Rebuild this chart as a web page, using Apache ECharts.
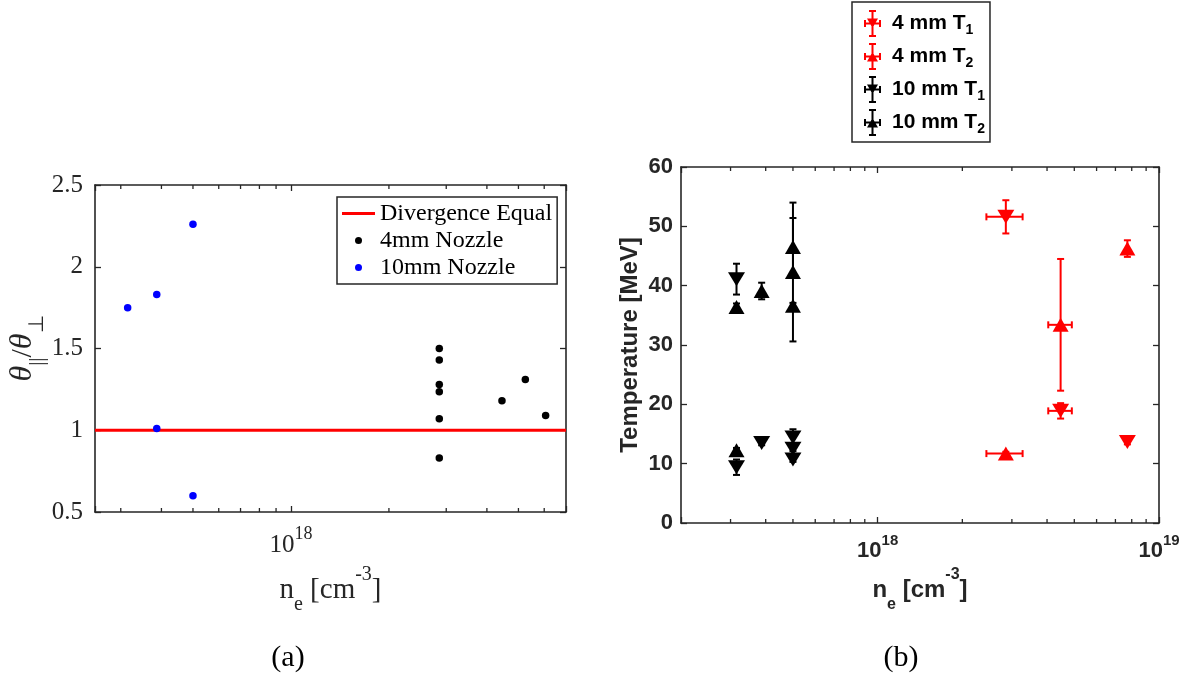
<!DOCTYPE html>
<html>
<head>
<meta charset="utf-8">
<script src="https://cdn.jsdelivr.net/npm/echarts@6/dist/echarts.min.js"></script>
<style>
  html, body { margin: 0; padding: 0; background: #fff; }
  #chart { width: 1191px; height: 682px; }
</style>
</head>
<body>
<div id="chart"></div>
<script>
// ---------- Panel (a): divergence ratio vs electron density ----------
const ne10mm    = [3.15e17, 3.87e17, 3.87e17, 5.0e17, 5.0e17];
const ratio10mm = [1.75, 1.83, 1.01, 2.26, 0.60];
const ne4mm     = [2.856e18, 2.856e18, 2.856e18, 2.856e18, 2.856e18, 2.856e18, 4.45e18, 5.25e18, 6.06e18];
const ratio4mm  = [1.50, 1.43, 1.28, 1.235, 1.07, 0.83, 1.18, 1.31, 1.09];
const divergenceEqual = 1;
const xRangeA = [2.5e17, 7e18];
const yRangeA = [0.5, 2.5];
const yStepA = 0.5;
const minorTicksA = [3e17, 4e17, 5e17, 6e17, 7e17, 8e17, 9e17, 2e18, 3e18, 4e18, 5e18, 6e18];

// ---------- Panel (b): temperatures vs electron density ----------
const ne10     = [3.15e17, 3.15e17, 3.87e17, 5.0e17, 5.0e17, 5.0e17];
const T1_10    = [41.1, 9.4, 13.5, 14.4, 12.5, 10.7];
const T1_10err = [2.6, 1.3, 0.4, 1.4, 0.4, 0.4];
const T2_10    = [36.4, 12.25, 39.1, 46.5, 42.3, 36.6];
const T2_10err = [0.6, 0.4, 1.4, 4.9, 11.7, 0.5];
const ne4      = [2.855e18, 4.47e18, 7.72e18];
const ne4err   = [0.42e18, 0.43e18, 0];
const T1_4     = [51.6, 18.9, 13.65];
const T1_4err  = [2.8, 1.3, 0.4];
const T2_4     = [11.7, 33.4, 46.25];
const T2_4err  = [0.3, 11.1, 1.4];
const xRangeB = [2e17, 1e19];
const yRangeB = [0, 60];
const yStepB = 10;
const minorTicksB = [3e17, 4e17, 5e17, 6e17, 7e17, 8e17, 9e17, 2e18, 3e18, 4e18, 5e18, 6e18, 7e18, 8e18, 9e18];

const AX = '#262626';
const SERIF = 'Liberation Serif';
const SANS = 'Liberation Sans';
const RED = '#ff0000';
const BLACK = '#000000';
const BLUE = '#0000ff';

const chart = echarts.init(document.getElementById('chart'), null, { renderer: 'canvas' });

// decade labels written as 10^n
function decadeLabel(v) {
  const e = Math.log10(v);
  const r = Math.round(e);
  return Math.abs(e - r) < 1e-6 ? '{b|10}{p|' + r + '}' : '';
}

// minor ticks of a log axis, drawn on both bottom and top edges of the box
function minorTickRenderer(len) {
  return function (params, api) {
    const cs = params.coordSys;
    const px = api.coord([api.value(0), api.value(1)])[0];
    const st = { stroke: AX, lineWidth: 1.3 };
    return {
      type: 'group',
      children: [
        { type: 'line', shape: { x1: px, y1: cs.y + cs.height, x2: px, y2: cs.y + cs.height - len }, style: st },
        { type: 'line', shape: { x1: px, y1: cs.y, x2: px, y2: cs.y + len }, style: st }
      ]
    };
  };
}

// error bars with end caps (x and y)
const CAP = 3.5;
function errorBarRenderer(color) {
  return function (params, api) {
    const x = api.value(0), y = api.value(1), xe = api.value(2), ye = api.value(3);
    const c = api.coord([x, y]);
    const st = { stroke: color, lineWidth: 2 };
    const seg = (x1, y1, x2, y2) => ({ type: 'line', shape: { x1, y1, x2, y2 }, style: st });
    const kids = [];
    if (ye > 0) {
      const top = api.coord([x, y + ye])[1];
      const bot = api.coord([x, y - ye])[1];
      kids.push(seg(c[0], top, c[0], bot), seg(c[0] - CAP, top, c[0] + CAP, top), seg(c[0] - CAP, bot, c[0] + CAP, bot));
    }
    if (xe > 0) {
      const l = api.coord([x - xe, y])[0];
      const r = api.coord([x + xe, y])[0];
      kids.push(seg(l, c[1], r, c[1]), seg(l, c[1] - CAP, l, c[1] + CAP), seg(r, c[1] - CAP, r, c[1] + CAP));
    }
    return { type: 'group', children: kids };
  };
}

function zip2(xs, ys) { return xs.map((x, i) => [x, ys[i]]); }
function zip4(xs, ys, xe, ye) { return xs.map((x, i) => [x, ys[i], xe[i], ye[i]]); }
const zeros = n => new Array(n).fill(0);

const axisLine = { show: true, onZero: false, lineStyle: { color: AX, width: 1.6 } };
const tickIn = { show: true, inside: true, length: 6, lineStyle: { color: AX, width: 1.3 } };

function logAxis(grid, pos, range, labelOpts, nameOpts) {
  return Object.assign({
    type: 'log', logBase: 10, gridIndex: grid, position: pos,
    min: range[0], max: range[1],
    axisLine: axisLine, axisTick: tickIn,
    axisLabel: labelOpts || { show: false },
    splitLine: { show: false }, minorTick: { show: false }
  }, nameOpts || {});
}
function valAxis(grid, pos, range, step, labelOpts, nameOpts) {
  return Object.assign({
    type: 'value', gridIndex: grid, position: pos,
    min: range[0], max: range[1], interval: step,
    axisLine: axisLine, axisTick: tickIn,
    axisLabel: labelOpts || { show: false },
    splitLine: { show: false }
  }, nameOpts || {});
}

// triangle-with-errorbar legend glyphs
const barsPath = 'M7.5,0H9.5V27H7.5Z M5,0H12V2H5Z M5,25H12V27H5Z M0,12.5H17V14.5H0Z M0,10H2V17H0Z M15,10H17V17H15Z';
const iconDown = 'path://' + barsPath + ' M3,8.5H14L8.5,18Z';
const iconUp = 'path://' + barsPath + ' M8.5,9L14,18.5H3Z';

const legendNames = {
  '4 mm T1': '{a|4 mm T}{s|1}',
  '4 mm T2': '{a|4 mm T}{s|2}',
  '10 mm T1': '{a|10 mm T}{s|1}',
  '10 mm T2': '{a|10 mm T}{s|2}'
};

const solid = c => ({ color: c, opacity: 1 });

const option = {
  animation: false,
  backgroundColor: '#ffffff',
  grid: [
    { left: 95, top: 185, width: 471, height: 327 },
    { left: 681, top: 167, width: 478, height: 356 }
  ],
  xAxis: [
    logAxis(0, 'bottom', xRangeA, {
      show: true, margin: 13, formatter: decadeLabel, showMinLabel: true, showMaxLabel: true,
      rich: {
        b: { fontFamily: SERIF, fontSize: 25, lineHeight: 40, color: AX },
        p: { fontFamily: SERIF, fontSize: 18, lineHeight: 16, verticalAlign: 'top', color: AX }
      }
    }, {
      name: '{n|n}{s|e}{n| [cm}{p|-3}{n|]}', nameLocation: 'middle', nameGap: 53,
      nameTextStyle: {
        rich: {
          n: { fontFamily: SERIF, fontSize: 29, lineHeight: 50, color: AX },
          s: { fontFamily: SERIF, fontSize: 20, lineHeight: 20, verticalAlign: 'bottom', color: AX },
          p: { fontFamily: SERIF, fontSize: 20, lineHeight: 24, verticalAlign: 'top', color: AX }
        }
      }
    }),
    logAxis(0, 'top', xRangeA),
    logAxis(1, 'bottom', xRangeB, {
      show: true, margin: 10, formatter: decadeLabel, showMinLabel: true, showMaxLabel: true,
      rich: {
        b: { fontFamily: SANS, fontWeight: 'bold', fontSize: 22, lineHeight: 36, color: AX },
        p: { fontFamily: SANS, fontWeight: 'bold', fontSize: 15, lineHeight: 20, verticalAlign: 'top', color: AX }
      }
    }, {
      name: '{n|n}{s|e}{n| [cm}{p|-3}{n|]}', nameLocation: 'middle', nameGap: 42,
      nameTextStyle: {
        rich: {
          n: { fontFamily: SANS, fontWeight: 'bold', fontSize: 24, lineHeight: 46, color: AX },
          s: { fontFamily: SANS, fontWeight: 'bold', fontSize: 16, lineHeight: 18, verticalAlign: 'bottom', color: AX },
          p: { fontFamily: SANS, fontWeight: 'bold', fontSize: 16, lineHeight: 26, verticalAlign: 'top', color: AX }
        }
      }
    }),
    logAxis(1, 'top', xRangeB)
  ],
  yAxis: [
    valAxis(0, 'left', yRangeA, yStepA, {
      show: true, margin: 12, fontFamily: SERIF, fontSize: 25, color: AX
    }, {
      name: '{t|θ}{s|||}{n|/}{t|θ}{s|⊥}', nameLocation: 'middle', nameGap: 46, nameRotate: 90,
      nameTextStyle: {
        rich: {
          t: { fontFamily: SERIF, fontStyle: 'italic', fontSize: 32, lineHeight: 50, color: AX },
          n: { fontFamily: SERIF, fontSize: 30, lineHeight: 50, color: AX },
          s: { fontFamily: SERIF, fontSize: 21, lineHeight: 20, verticalAlign: 'bottom', color: AX }
        }
      }
    }),
    valAxis(0, 'right', yRangeA, yStepA),
    valAxis(1, 'left', yRangeB, yStepB, {
      show: true, margin: 8, fontFamily: SANS, fontWeight: 'bold', fontSize: 22, color: AX
    }, {
      name: 'Temperature [MeV]', nameLocation: 'middle', nameGap: 34, nameRotate: 90,
      nameTextStyle: { fontFamily: SANS, fontWeight: 'bold', fontSize: 24, lineHeight: 29, color: AX }
    }),
    valAxis(1, 'right', yRangeB, yStepB)
  ],
  legend: [
    {
      orient: 'vertical', left: 337, top: 197,
      padding: [3, 5, 3, 5], itemWidth: 33, itemHeight: 7, itemGap: 0,
      borderColor: AX, borderWidth: 1.5, backgroundColor: '#fff',
      textStyle: { fontFamily: SERIF, fontSize: 24, lineHeight: 27, color: '#000' },
      data: [
        { name: 'Divergence Equal', icon: 'path://M0,0H33V3H0Z', itemStyle: solid(RED) },
        { name: '4mm Nozzle', icon: 'circle', itemStyle: solid(BLACK) },
        { name: '10mm Nozzle', icon: 'circle', itemStyle: solid(BLUE) }
      ]
    },
    {
      orient: 'vertical', left: 852, top: 2,
      padding: [8, 5, 6, 12], itemWidth: 17, itemHeight: 27, itemGap: 6,
      symbolRotate: 0,
      borderColor: AX, borderWidth: 1.5, backgroundColor: '#fff',
      formatter: name => legendNames[name],
      textStyle: {
        rich: {
          a: { fontFamily: SANS, fontWeight: 'bold', fontSize: 21, lineHeight: 27, color: '#000', padding: [0, 0, 0, 6] },
          s: { fontFamily: SANS, fontWeight: 'bold', fontSize: 14, lineHeight: 11, verticalAlign: 'bottom', color: '#000' }
        }
      },
      data: [
        { name: '4 mm T1', icon: iconDown, itemStyle: solid(RED) },
        { name: '4 mm T2', icon: iconUp, itemStyle: solid(RED) },
        { name: '10 mm T1', icon: iconDown, itemStyle: solid(BLACK) },
        { name: '10 mm T2', icon: iconUp, itemStyle: solid(BLACK) }
      ]
    }
  ],
  graphic: [
    { type: 'text', x: 288, y: 658, style: { text: '(a)', font: '30px "Liberation Serif"', align: 'center', verticalAlign: 'middle', fill: '#000' } },
    { type: 'text', x: 901, y: 658, style: { text: '(b)', font: '30px "Liberation Serif"', align: 'center', verticalAlign: 'middle', fill: '#000' } }
  ],
  series: [
    // panel (a)
    {
      type: 'custom', xAxisIndex: 0, yAxisIndex: 0, silent: true, clip: false,
      renderItem: minorTickRenderer(4), encode: { x: 0, y: 1 },
      data: minorTicksA.map(v => [v, yRangeA[0]])
    },
    {
      name: 'Divergence Equal', type: 'line', xAxisIndex: 0, yAxisIndex: 0,
      data: zip2(xRangeA, [divergenceEqual, divergenceEqual]),
      showSymbol: false, symbol: 'none', color: RED,
      itemStyle: solid(RED), lineStyle: { color: RED, width: 3, opacity: 1 }, z: 2
    },
    {
      name: '4mm Nozzle', type: 'scatter', xAxisIndex: 0, yAxisIndex: 0,
      data: zip2(ne4mm, ratio4mm), symbol: 'circle', symbolSize: 7.5,
      itemStyle: solid(BLACK), z: 3
    },
    {
      name: '10mm Nozzle', type: 'scatter', xAxisIndex: 0, yAxisIndex: 0,
      data: zip2(ne10mm, ratio10mm), symbol: 'circle', symbolSize: 7.5,
      itemStyle: solid(BLUE), z: 3
    },
    // panel (b)
    {
      type: 'custom', xAxisIndex: 2, yAxisIndex: 2, silent: true, clip: false,
      renderItem: minorTickRenderer(4), encode: { x: 0, y: 1 },
      data: minorTicksB.map(v => [v, yRangeB[0]])
    },
    { type: 'custom', xAxisIndex: 2, yAxisIndex: 2, silent: true, renderItem: errorBarRenderer(RED), encode: { x: 0, y: 1 }, data: zip4(ne4, T1_4, ne4err, T1_4err), z: 2 },
    { type: 'custom', xAxisIndex: 2, yAxisIndex: 2, silent: true, renderItem: errorBarRenderer(RED), encode: { x: 0, y: 1 }, data: zip4(ne4, T2_4, ne4err, T2_4err), z: 2 },
    { type: 'custom', xAxisIndex: 2, yAxisIndex: 2, silent: true, renderItem: errorBarRenderer(BLACK), encode: { x: 0, y: 1 }, data: zip4(ne10, T1_10, zeros(ne10.length), T1_10err), z: 2 },
    { type: 'custom', xAxisIndex: 2, yAxisIndex: 2, silent: true, renderItem: errorBarRenderer(BLACK), encode: { x: 0, y: 1 }, data: zip4(ne10, T2_10, zeros(ne10.length), T2_10err), z: 2 },
    {
      name: '4 mm T1', type: 'scatter', xAxisIndex: 2, yAxisIndex: 2,
      data: zip2(ne4, T1_4), symbol: 'triangle', symbolRotate: 180, symbolSize: [17, 14],
      itemStyle: solid(RED), z: 3
    },
    {
      name: '4 mm T2', type: 'scatter', xAxisIndex: 2, yAxisIndex: 2,
      data: zip2(ne4, T2_4), symbol: 'triangle', symbolSize: [16, 14],
      itemStyle: solid(RED), z: 3
    },
    {
      name: '10 mm T1', type: 'scatter', xAxisIndex: 2, yAxisIndex: 2,
      data: zip2(ne10, T1_10), symbol: 'triangle', symbolRotate: 180, symbolSize: [17, 14],
      itemStyle: solid(BLACK), z: 3
    },
    {
      name: '10 mm T2', type: 'scatter', xAxisIndex: 2, yAxisIndex: 2,
      data: zip2(ne10, T2_10), symbol: 'triangle', symbolSize: [16, 14],
      itemStyle: solid(BLACK), z: 3
    }
  ]
};

chart.setOption(option);
</script>
</body>
</html>
